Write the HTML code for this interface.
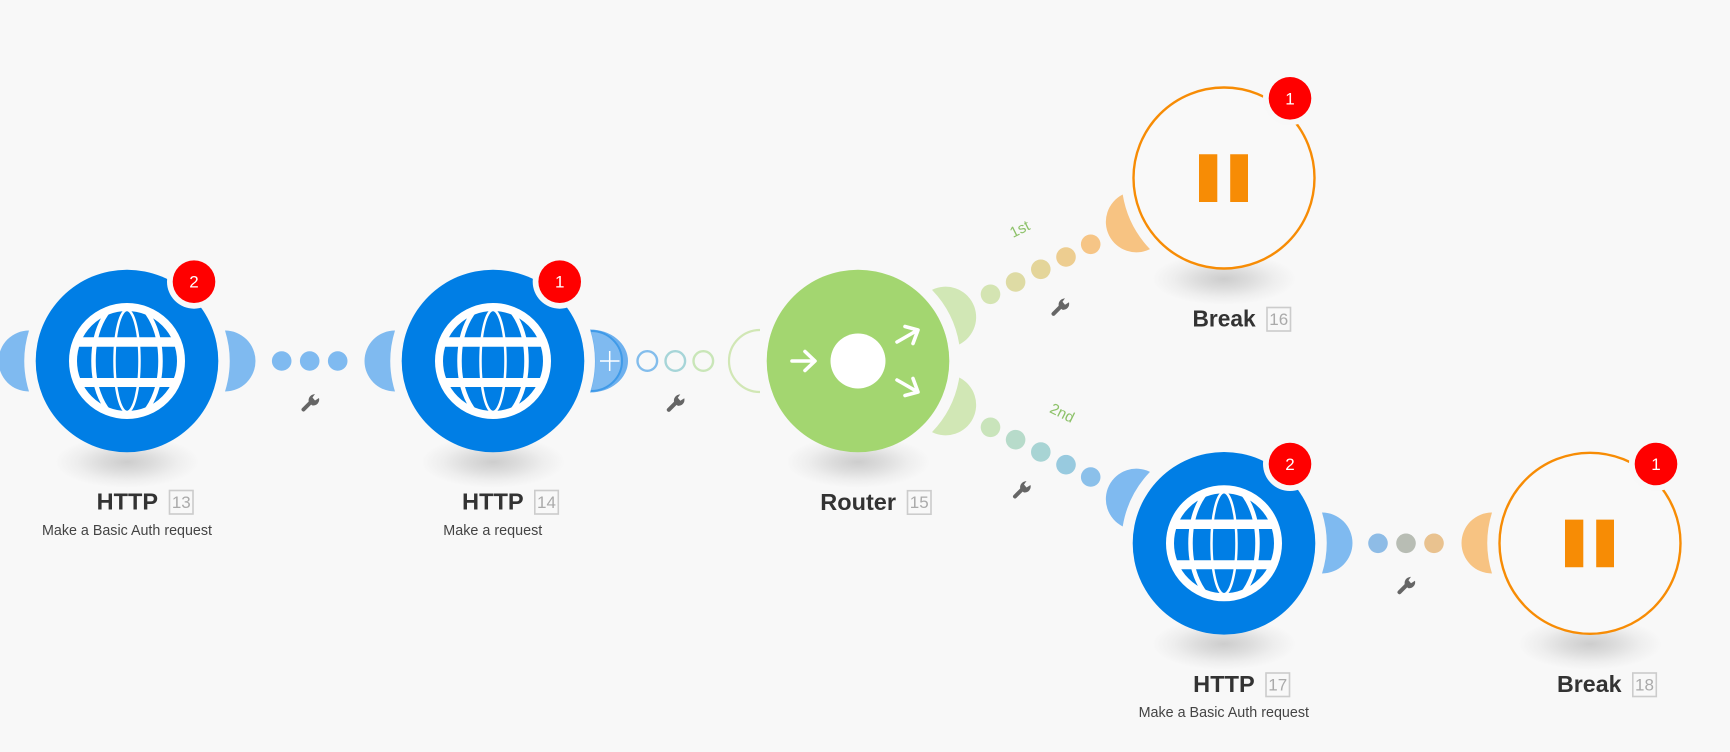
<!DOCTYPE html>
<html><head><meta charset="utf-8"><title>Scenario</title>
<style>
html,body{margin:0;padding:0;background:#f8f8f8;width:1730px;height:752px;overflow:hidden}
svg{display:block}
text{font-family:"Liberation Sans",sans-serif}
.t{font-weight:700;font-size:23px;fill:#333}
.s{font-size:14.5px;fill:#444}
.n{font-size:17px;fill:#aaa;text-anchor:middle}
.b{font-size:17px;fill:#fff;text-anchor:middle}
.l{font-size:15px;fill:#8cc168;text-anchor:middle}
.box{fill:none;stroke:#ccc;stroke-width:1.6}
</style></head><body>
<svg width="1730" height="752" viewBox="0 0 1730 752" xmlns="http://www.w3.org/2000/svg">
<defs>
<radialGradient id="sh"><stop offset="0" stop-color="#cdcdcd"/><stop offset=".35" stop-color="#dcdcdc"/><stop offset=".7" stop-color="#eeeeee"/><stop offset="1" stop-color="#f8f8f8"/></radialGradient>
<clipPath id="gc"><circle r="54"/></clipPath>
<path id="h" d="M98,-30.5A30.5,30.5 0 0 1 98,30.5A102.6,102.6 0 0 0 98,-30.5Z"/>
<ellipse id="shadow" cx="0" cy="101" rx="72" ry="26" fill="url(#sh)"/>
<g id="globe" fill="none" stroke="#fff">
<g clip-path="url(#gc)">
<ellipse rx="33.500" ry="60" stroke-width="4.500"/>
<ellipse rx="12.500" ry="51" stroke-width="2.500"/>
<path d="M-54,-19H54" stroke-width="9.500"/>
<path d="M-54,21.500H54" stroke-width="9"/>
</g>
<circle r="54" stroke-width="8"/>
</g>
<g id="wrench" fill="#666" stroke="none">
<path d="M-6.5,6.5L2,-2" stroke="#666" stroke-width="4" stroke-linecap="round"/>
<path d="M-0.5,0.5A6,6 0 0 1 3,-8.5L5,-9L2.5,-5.5L5,-2.5L9,-5A6,6 0 0 1 2.5,2.5Z"/>
</g>
</defs>

<!-- shadows -->
<g>
<use href="#shadow" x="127" y="361"/><use href="#shadow" x="493" y="361"/><use href="#shadow" x="858" y="361"/>
<use href="#shadow" x="1224" y="178"/><use href="#shadow" x="1224" y="543"/><use href="#shadow" x="1590" y="543"/>
</g>

<!-- handles -->
<g fill="#7fbaf0">
<use href="#h" transform="translate(127,361) rotate(180)"/>
<use href="#h" transform="translate(127,361)"/>
<use href="#h" transform="translate(493,361) rotate(180)"/>
<use href="#h" transform="translate(1224,543) rotate(206.57)"/>
<use href="#h" transform="translate(1224,543)"/>
</g>
<path d="M590,329.500A38,31.500 0 0 1 590,392.500A102.600,102.600 0 0 0 590,329.500Z" fill="#6db0ee"/>
<path d="M591,331A31,30 0 0 1 591,391A102.600,102.600 0 0 0 591,331Z" fill="#7fbaf0"/>
<path d="M591,331A31,30 0 0 1 591,391" fill="none" stroke="#3f9ae8" stroke-width="2"/>
<path d="M600,361H619.500M609.700,351V371" stroke="#fff" stroke-width="1.500" fill="none"/>
<path d="M760,330A31,31 0 0 0 760,392" fill="none" stroke="#d1e7b5" stroke-width="2.200"/>
<g fill="#d1e7b5">
<use href="#h" transform="translate(858,361) rotate(-26.57)"/>
<use href="#h" transform="translate(858,361) rotate(26.57)"/>
</g>
<g fill="#f7c382">
<use href="#h" transform="translate(1224,178) rotate(153.43)"/>
<use href="#h" transform="translate(1590,543) rotate(180)"/>
</g>

<!-- dots -->
<g fill="#7fbaf0"><circle cx="281.700" cy="361" r="9.800"/><circle cx="309.700" cy="361" r="9.800"/><circle cx="337.700" cy="361" r="9.800"/></g>
<g fill="none" stroke-width="2.400">
<circle cx="647.300" cy="361" r="9.800" stroke="#83bdec"/><circle cx="675.300" cy="361" r="9.800" stroke="#a6d5d8"/><circle cx="703.300" cy="361" r="9.800" stroke="#c9e6b8"/>
</g>
<circle cx="990.500" cy="294.300" r="9.800" fill="#d4e4b2"/><circle cx="1015.600" cy="282" r="9.800" fill="#dedba4"/><circle cx="1040.800" cy="269.300" r="9.800" fill="#e4d59a"/><circle cx="1066" cy="257" r="9.800" fill="#edcd90"/><circle cx="1090.700" cy="244.300" r="9.800" fill="#f6c586"/>
<circle cx="990.500" cy="427.300" r="9.800" fill="#c9e4bb"/><circle cx="1015.600" cy="439.700" r="9.800" fill="#b7dbca"/><circle cx="1040.800" cy="452" r="9.800" fill="#a8d4d4"/><circle cx="1066" cy="464.700" r="9.800" fill="#98cadf"/><circle cx="1090.700" cy="477" r="9.800" fill="#8bc0ea"/>
<circle cx="1378" cy="543.300" r="9.800" fill="#8ebce6"/><circle cx="1406" cy="543.300" r="9.800" fill="#b8bdb4"/><circle cx="1434" cy="543.300" r="9.800" fill="#e9c28f"/>

<!-- wrenches -->
<use href="#wrench" x="310" y="403"/><use href="#wrench" x="675.300" y="403.300"/><use href="#wrench" x="1060" y="307.300"/><use href="#wrench" x="1021.500" y="490"/><use href="#wrench" x="1406" y="585.700"/>

<!-- route labels -->
<text class="l" transform="translate(1022,233.500) rotate(-26.570)">1st</text>
<text class="l" transform="translate(1060,417.500) rotate(26.570)">2nd</text>

<!-- nodes -->
<circle cx="127" cy="361" r="91.300" fill="#007ee5"/>
<use href="#globe" x="127" y="361"/>
<circle cx="493" cy="361" r="91.300" fill="#007ee5"/>
<use href="#globe" x="493" y="361"/>
<circle cx="858" cy="361" r="91.300" fill="#a3d670"/>
<circle cx="858" cy="361" r="27.500" fill="#fff"/>
<g fill="none" stroke="#fff" stroke-width="3.600" stroke-linecap="round" stroke-linejoin="round">
<path d="M792,361H814.500M805,351.500L815,361L805,370.500"/>
<path d="M897,342L917,330.500M905,326.500L918,330L913,343.500"/>
<path d="M897,380L917,391.500M905,395.500L918,392L913,378.500"/>
</g>
<circle cx="1224" cy="178" r="90.500" fill="#f9f9f9" stroke="#f78c05" stroke-width="2.400"/>
<path d="M1199,154.300h18.300v47.700h-18.300zM1230.200,154.300h17.800v47.700h-17.800z" fill="#f78c05"/>
<circle cx="1224" cy="543.300" r="91.300" fill="#007ee5"/>
<use href="#globe" x="1224" y="543.300"/>
<circle cx="1590" cy="543.300" r="90.500" fill="#f9f9f9" stroke="#f78c05" stroke-width="2.400"/>
<path d="M1565,519.600h18.300v47.700h-18.300zM1596.200,519.600h17.800v47.700h-17.800z" fill="#f78c05"/>

<!-- badges -->
<g fill="#f8f8f8">
<circle cx="194" cy="281.700" r="27"/><circle cx="559.700" cy="281.700" r="27"/><circle cx="1290" cy="98.300" r="27"/><circle cx="1290" cy="464" r="27"/><circle cx="1656" cy="464" r="27"/>
</g>
<g fill="#f00">
<circle cx="194" cy="281.700" r="21.300"/><circle cx="559.700" cy="281.700" r="21.300"/><circle cx="1290" cy="98.300" r="21.300"/><circle cx="1290" cy="464" r="21.300"/><circle cx="1656" cy="464" r="21.300"/>
</g>
<text class="b" x="194" y="287.700">2</text>
<text class="b" x="559.700" y="287.700">1</text>
<text class="b" x="1290" y="104.300">1</text>
<text class="b" x="1290" y="470">2</text>
<text class="b" x="1656" y="470">1</text>

<!-- titles -->
<text class="t" x="96.700" y="509.500" textLength="61.300" lengthAdjust="spacingAndGlyphs">HTTP</text>
<rect class="box" x="169.500" y="490.500" width="23.500" height="23.500"/><text class="n" x="181.300" y="507.800">13</text>
<text class="s" x="42" y="535" textLength="170" lengthAdjust="spacingAndGlyphs">Make a Basic Auth request</text>

<text class="t" x="462" y="509.500" textLength="61.700" lengthAdjust="spacingAndGlyphs">HTTP</text>
<rect class="box" x="534.800" y="490.500" width="23.500" height="23.500"/><text class="n" x="546.500" y="507.800">14</text>
<text class="s" x="443.300" y="535" textLength="99" lengthAdjust="spacingAndGlyphs">Make a request</text>

<text class="t" x="820.300" y="510" textLength="75.700" lengthAdjust="spacingAndGlyphs">Router</text>
<rect class="box" x="907.500" y="490.700" width="23.500" height="23.500"/><text class="n" x="919.200" y="508">15</text>

<text class="t" x="1192.500" y="326.700" textLength="63.200" lengthAdjust="spacingAndGlyphs">Break</text>
<rect class="box" x="1267" y="307.500" width="23.500" height="23.500"/><text class="n" x="1278.700" y="324.800">16</text>

<text class="t" x="1193.200" y="692" textLength="61.500" lengthAdjust="spacingAndGlyphs">HTTP</text>
<rect class="box" x="1266" y="673" width="23.500" height="23.500"/><text class="n" x="1277.700" y="690.300">17</text>
<text class="s" x="1138.600" y="717" textLength="170.400" lengthAdjust="spacingAndGlyphs">Make a Basic Auth request</text>

<text class="t" x="1557" y="692" textLength="64.500" lengthAdjust="spacingAndGlyphs">Break</text>
<rect class="box" x="1632.800" y="673" width="23.500" height="23.500"/><text class="n" x="1644.500" y="690.300">18</text>
</svg>
</body></html>
